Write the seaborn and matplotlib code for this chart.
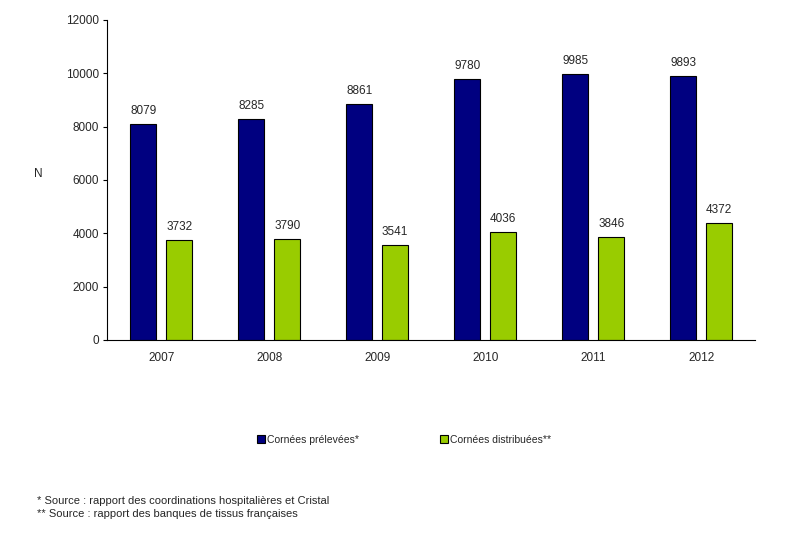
import pandas as pd
import matplotlib
matplotlib.use('Agg')
import matplotlib.pyplot as plt
import seaborn as sns

# Données
annees = ['2007', '2008', '2009', '2010', '2011', '2012']
prelevees = [8079, 8285, 8861, 9780, 9985, 9893]
distribuees = [3732, 3790, 3541, 4036, 3846, 4372]
series = ['Cornées prélevées*', 'Cornées distribuées**']

df = pd.DataFrame({
    'annee': annees * 2,
    'serie': [series[0]] * len(annees) + [series[1]] * len(annees),
    'N': prelevees + distribuees,
})

sns.set_style('white')
plt.rcParams['font.family'] = ['Liberation Sans', 'DejaVu Sans']

fig = plt.figure(figsize=(8, 5.5), dpi=100)
ax = fig.add_axes([0.134, 0.382, 0.81, 0.582])

sns.barplot(data=df, x='annee', y='N', hue='serie',
            palette=['#000080', '#99CC00'], saturation=1,
            width=0.667, gap=0.28,
            edgecolor='black', linewidth=0.8, ax=ax)

for c in ax.containers:
    ax.bar_label(c, padding=5, fontsize=8.5)

ax.set_ylim(0, 12000)
ax.set_yticks(range(0, 12001, 2000))
ax.set_xlim(-0.5, 5.5)
ax.set_xlabel('')
ax.set_ylabel('N', rotation=0, fontsize=8.5)
ax.yaxis.set_label_coords(-0.106, 0.5)
ax.tick_params(axis='y', which='both', left=True, length=3, width=0.8,
               labelsize=8.5, color='black', pad=3)
ax.tick_params(axis='x', bottom=False, labelsize=8.5, pad=5)
for s in ['top', 'right']:
    ax.spines[s].set_visible(False)
for s in ['left', 'bottom']:
    ax.spines[s].set_color('black')
    ax.spines[s].set_linewidth(0.8)

handles, labels = ax.get_legend_handles_labels()
ax.get_legend().remove()
fig.legend(handles, labels, loc='center', bbox_to_anchor=(0.505, 0.2),
           ncol=2, frameon=False, fontsize=7.5, handlelength=0.8,
           handleheight=0.8, handletextpad=0.2, columnspacing=7.7)

fig.text(0.046, 0.09, '* Source : rapport des coordinations hospitalières et Cristal',
         fontsize=8, va='center')
fig.text(0.046, 0.065, '** Source : rapport des banques de tissus françaises',
         fontsize=8, va='center')

fig.savefig('out.png', dpi=100)
